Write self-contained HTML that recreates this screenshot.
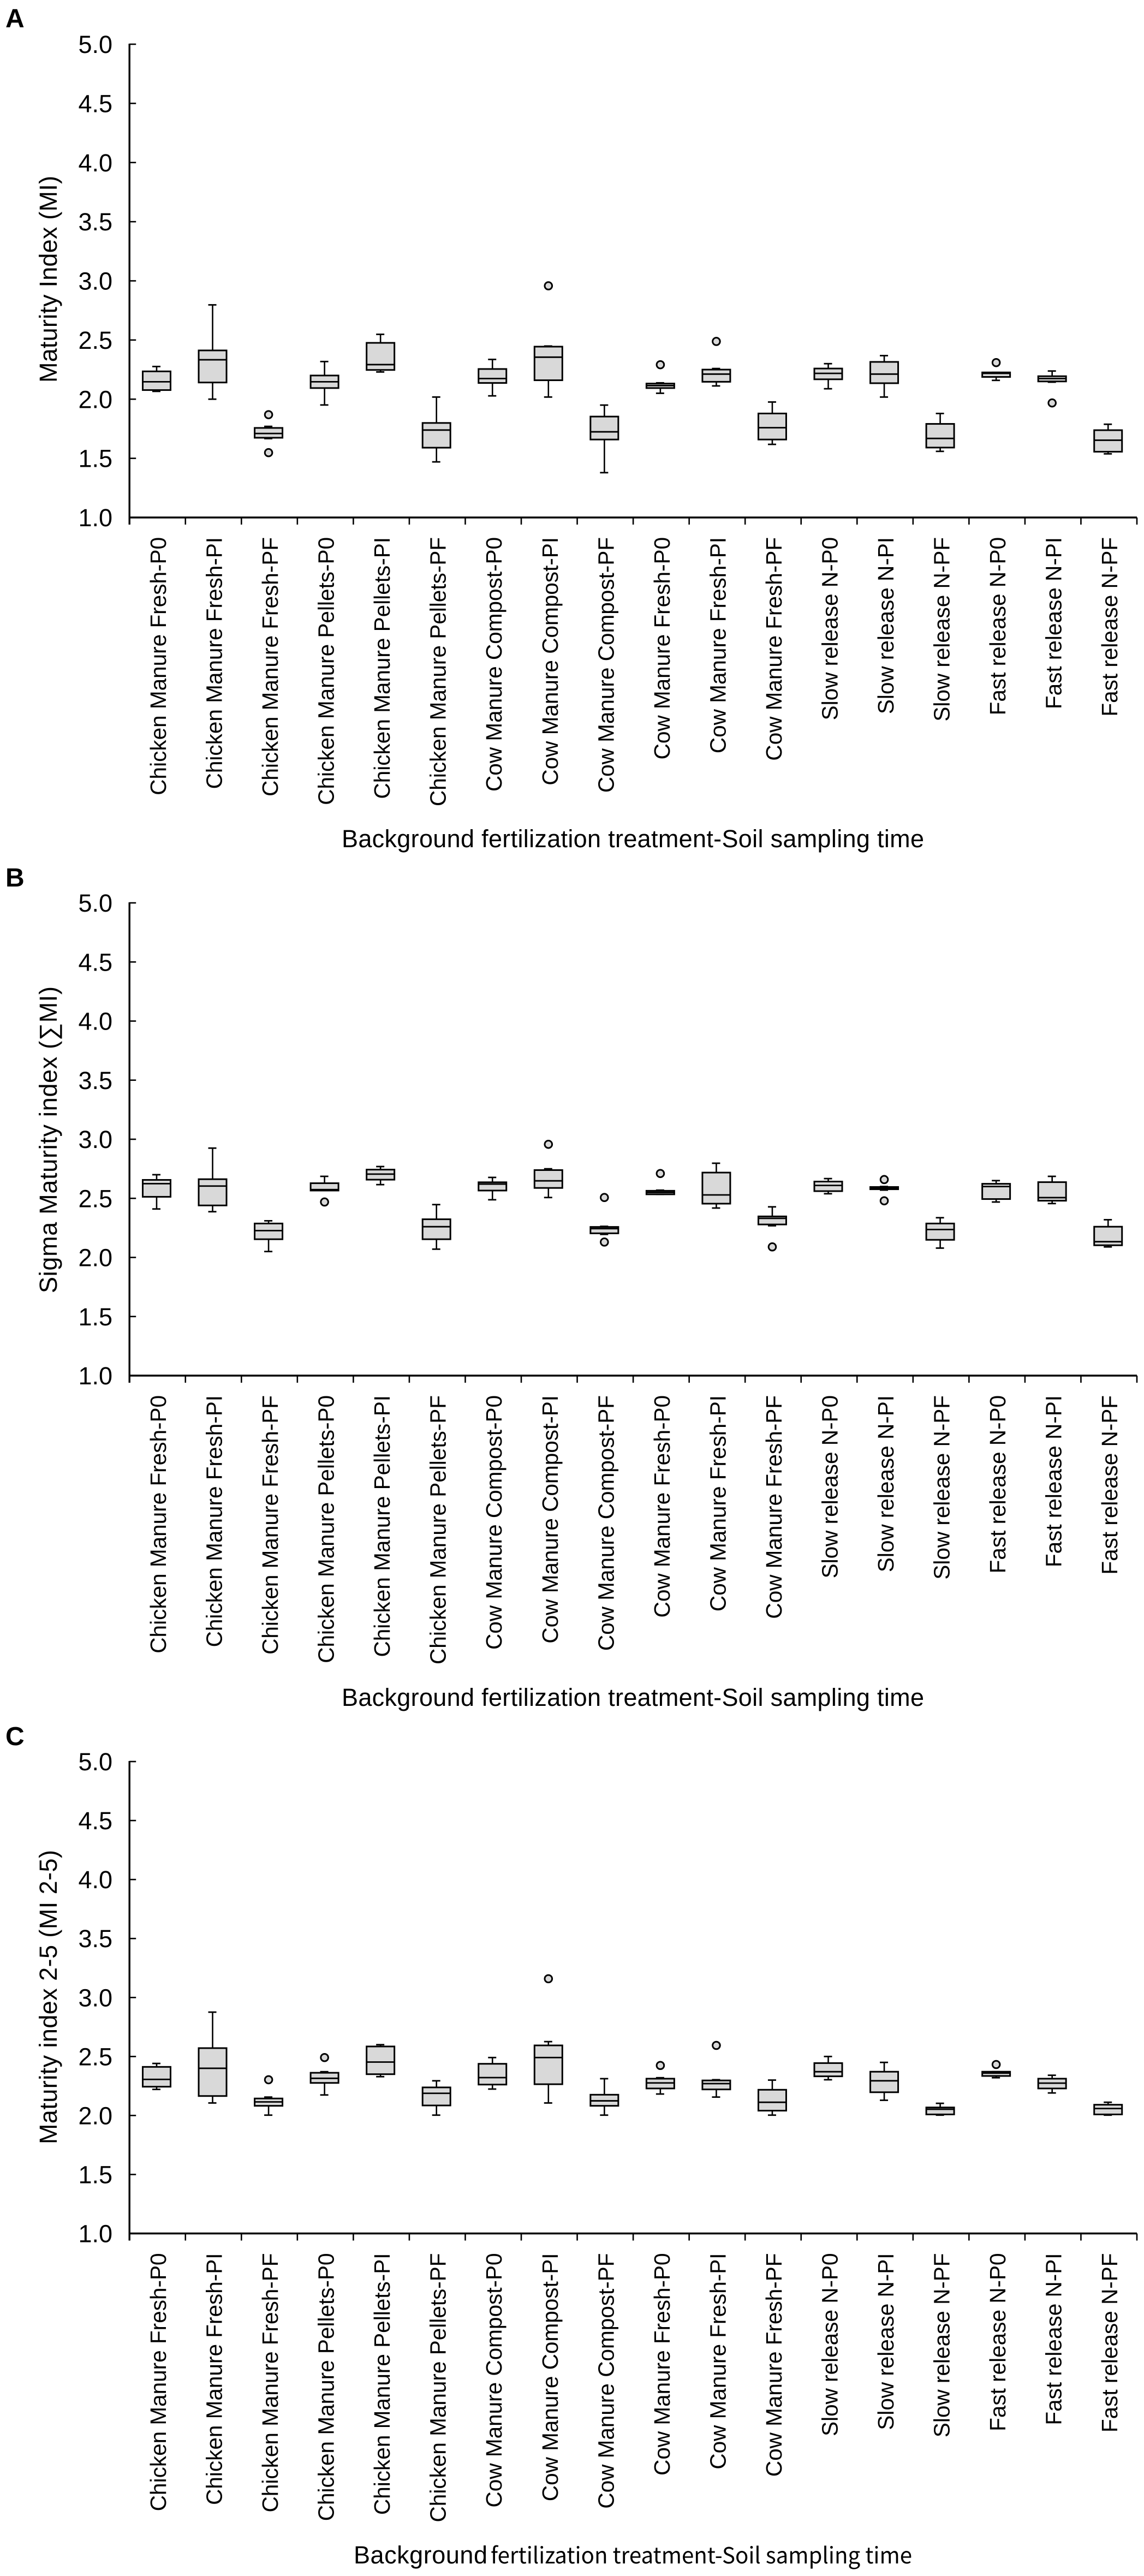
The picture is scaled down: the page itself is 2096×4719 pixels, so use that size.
<!DOCTYPE html>
<html lang="en">
<head>
<meta charset="utf-8">
<title>Maturity index box plots</title>
<style>
html,body{margin:0;padding:0;background:#fff;}
svg{display:block;}
text{font-family:"Liberation Sans","DejaVu Sans",sans-serif;fill:#000;}
.letter{font-size:48px;font-weight:bold;}
.ytitle,.xtitle{font-size:45px;}
.calibri{font-family:"Noto Sans CJK JP","Liberation Sans",sans-serif;font-size:41px;}
</style>
</head>
<body>
<svg id="figure" xmlns="http://www.w3.org/2000/svg" width="2096" height="4719" viewBox="0 0 2096 4719">
  <rect x="0" y="0" width="2096" height="4719" fill="#ffffff"/>

  <text class="letter" x="10" y="50">A</text>
  <text class="ytitle" transform="translate(104 701) rotate(-90)" textLength="379" lengthAdjust="spacing">Maturity Index (MI)</text>
  <text class="xtitle" x="626" y="1552" textLength="1067" lengthAdjust="spacing">Background fertilization treatment-Soil sampling time</text>

  <text class="letter" x="10" y="1624">B</text>
  <text class="ytitle" transform="translate(104 2369) rotate(-90)" textLength="562" lengthAdjust="spacing">Sigma Maturity index  (∑MI)</text>
  <text class="xtitle" x="626" y="3125" textLength="1067" lengthAdjust="spacing">Background fertilization treatment-Soil sampling time</text>

  <text class="letter" x="10" y="3197">C</text>
  <text class="ytitle" transform="translate(104 3928) rotate(-90)" textLength="539" lengthAdjust="spacing">Maturity index 2-5 (MI 2-5)</text>
  <g>
    <text class="xtitle" x="648" y="4696" textLength="245" lengthAdjust="spacing">Background</text>
    <text class="calibri" x="899" y="4696" textLength="772" lengthAdjust="spacingAndGlyphs">fertilization treatment-Soil sampling time</text>
  </g>
</svg>

<script>
// Shared axis data
const categories = [
  "Chicken Manure Fresh-P0","Chicken Manure Fresh-PI","Chicken Manure Fresh-PF",
  "Chicken Manure Pellets-P0","Chicken Manure Pellets-PI","Chicken Manure Pellets-PF",
  "Cow Manure Compost-P0","Cow Manure Compost-PI","Cow Manure Compost-PF",
  "Cow Manure Fresh-P0","Cow Manure Fresh-PI","Cow Manure Fresh-PF",
  "Slow release N-P0","Slow release N-PI","Slow release N-PF",
  "Fast release N-P0","Fast release N-PI","Fast release N-PF"
];
const yTickValues = [1.0,1.5,2.0,2.5,3.0,3.5,4.0,4.5,5.0];
const yTickLabels = ["1.0","1.5","2.0","2.5","3.0","3.5","4.0","4.5","5.0"];

// Panel A: Maturity Index (MI)
const aWhiskerHigh = [2.276,2.797,1.770,2.318,2.548,2.018,2.336,2.449,1.950,2.138,2.259,1.976,2.300,2.368,1.879,2.226,2.238,1.788];
const aQ3          = [2.235,2.412,1.757,2.200,2.476,1.799,2.255,2.444,1.853,2.132,2.250,1.879,2.259,2.315,1.791,2.226,2.194,1.738];
const aMedian      = [2.147,2.333,1.710,2.147,2.292,1.739,2.174,2.355,1.724,2.115,2.212,1.759,2.218,2.212,1.668,2.218,2.174,1.653];
const aQ1          = [2.077,2.141,1.674,2.094,2.247,1.590,2.137,2.160,1.659,2.094,2.147,1.659,2.168,2.135,1.591,2.188,2.150,1.556];
const aWhiskerLow  = [2.066,2.000,1.667,1.951,2.230,1.470,2.028,2.018,1.379,2.050,2.112,1.618,2.088,2.018,1.559,2.159,2.144,1.538];
const aOutliers    = [[],[],[1.869,1.548],[],[],[],[],[2.958],[],[2.291],[2.488],[],[],[],[],[2.309],[1.968],[]];

// Panel B: Sigma Maturity index
const bWhiskerHigh = [2.700,2.925,2.310,2.686,2.769,2.447,2.677,2.750,2.263,2.569,2.797,2.428,2.667,2.600,2.336,2.650,2.686,2.319];
const bQ3          = [2.656,2.662,2.287,2.628,2.743,2.323,2.636,2.739,2.258,2.564,2.718,2.347,2.642,2.596,2.287,2.623,2.637,2.260];
const bMedian      = [2.624,2.604,2.227,2.574,2.705,2.260,2.621,2.648,2.244,2.550,2.529,2.331,2.609,2.586,2.236,2.600,2.506,2.133];
const bQ1          = [2.513,2.440,2.154,2.566,2.658,2.154,2.566,2.588,2.204,2.534,2.455,2.279,2.561,2.577,2.149,2.494,2.480,2.103];
const bWhiskerLow  = [2.410,2.387,2.050,2.566,2.616,2.070,2.488,2.507,2.195,2.534,2.418,2.268,2.539,2.570,2.079,2.469,2.456,2.089];
const bOutliers    = [[],[],[],[2.469],[],[],[],[2.957],[2.507,2.130],[2.710],[],[2.089],[],[2.659,2.479],[],[],[],[]];

// Panel C: Maturity index 2-5
const cWhiskerHigh = [2.441,2.876,2.156,2.371,2.600,2.294,2.491,2.626,2.312,2.320,2.303,2.300,2.500,2.450,2.103,2.371,2.341,2.112];
const cQ3          = [2.412,2.571,2.144,2.362,2.585,2.238,2.438,2.594,2.176,2.312,2.297,2.218,2.444,2.371,2.068,2.371,2.312,2.091];
const cMedian      = [2.306,2.400,2.115,2.315,2.453,2.188,2.321,2.491,2.124,2.276,2.270,2.112,2.371,2.294,2.053,2.359,2.274,2.059];
const cQ1          = [2.244,2.165,2.082,2.276,2.350,2.085,2.262,2.265,2.082,2.229,2.221,2.041,2.332,2.197,2.009,2.335,2.229,2.009];
const cWhiskerLow  = [2.221,2.106,2.003,2.174,2.329,2.003,2.224,2.106,2.003,2.182,2.156,2.003,2.303,2.129,2.003,2.320,2.191,2.003];
const cOutliers    = [[],[],[2.303],[2.491],[],[],[],[3.159],[],[2.424],[2.594],[],[],[],[],[2.432],[],[]];

const svg = document.getElementById('figure');
const NS = 'http://www.w3.org/2000/svg';

function make(parent, tag, geometry) {
  const el = document.createElementNS(NS, tag);
  for (const k in geometry) el.setAttribute(k, geometry[k]);
  parent.appendChild(el);
  return el;
}

function drawPanel(id, top, bottom, whiskerHigh, q3, median, q1, whiskerLow, outliers) {
  const axisX = 237.2, axisRight = 2083;
  const band = (axisRight - axisX) / categories.length;
  const yScale = v => bottom - (v - 1) * (bottom - top) / 4;
  const xCenter = i => axisX - 1.5 + (i + 0.5) * band;

  const g = make(svg, 'g', {});
  
  

  // Y axis
  const yAxis = make(g, 'line', {x1: axisX, x2: axisX, y1: top - 1, y2: bottom + 13, stroke: '#000', 'stroke-width': 3.4});
  
  

  yTickValues.forEach((v, i) => {
    const yy = yScale(v);
    const tick = make(g, 'line', {x1: axisX, x2: axisX + 12, y1: yy, y2: yy, stroke: '#000', 'stroke-width': 2.6});
    
    
    const label = make(g, 'text', {x: 206, y: yy + 16, 'text-anchor': 'end', 'font-size': 45});
    label.textContent = yTickLabels[i];
    
    
  });

  // X axis
  const xAxis = make(g, 'line', {x1: axisX, x2: axisRight, y1: bottom, y2: bottom, stroke: '#000', 'stroke-width': 3.6});
  
  

  for (let i = 0; i <= categories.length; i++) {
    const xx = axisX + i * band;
    const tick = make(g, 'line', {x1: xx, x2: xx, y1: bottom, y2: bottom + 13, stroke: '#000', 'stroke-width': 2.6});
    
    
  }

  categories.forEach((name, i) => {
    const cx = xCenter(i);
    const label = make(g, 'text', {
      transform: 'translate(' + (cx + 17) + ' ' + (bottom + 36) + ') rotate(-90)',
      'text-anchor': 'end', 'font-size': 40.5
    });
    label.textContent = name;
    
    

    const box = make(g, 'g', {});
    
    

    const stem = make(box, 'line', {x1: cx, x2: cx, y1: yScale(whiskerHigh[i]), y2: yScale(whiskerLow[i]), stroke: '#000', 'stroke-width': 2.6});
    
    

    const capHigh = make(box, 'line', {x1: cx - 8, x2: cx + 7, y1: yScale(whiskerHigh[i]), y2: yScale(whiskerHigh[i]), stroke: '#000', 'stroke-width': 2.8});
    
    

    const capLow = make(box, 'line', {x1: cx - 8, x2: cx + 7, y1: yScale(whiskerLow[i]), y2: yScale(whiskerLow[i]), stroke: '#000', 'stroke-width': 2.8});
    
    

    const rect = make(box, 'rect', {
      x: cx - 25.5, width: 51, y: yScale(q3[i]), height: yScale(q1[i]) - yScale(q3[i]),
      fill: '#d9d9d9', stroke: '#000', 'stroke-width': 3
    });
    
    

    const med = make(box, 'line', {x1: cx - 25.5, x2: cx + 25.5, y1: yScale(median[i]), y2: yScale(median[i]), stroke: '#000', 'stroke-width': 2.8});
    
    

    outliers[i].forEach((v, k) => {
      const dot = make(box, 'circle', {cx: cx, cy: yScale(v), r: 6.8, fill: '#d9d9d9', stroke: '#000', 'stroke-width': 3});
      
      
    });
  });
}

drawPanel('a', 81, 948, aWhiskerHigh, aQ3, aMedian, aQ1, aWhiskerLow, aOutliers);
drawPanel('b', 1654, 2520, bWhiskerHigh, bQ3, bMedian, bQ1, bWhiskerLow, bOutliers);
drawPanel('c', 3227, 4091.5, cWhiskerHigh, cQ3, cMedian, cQ1, cWhiskerLow, cOutliers);
</script>
</body>
</html>
